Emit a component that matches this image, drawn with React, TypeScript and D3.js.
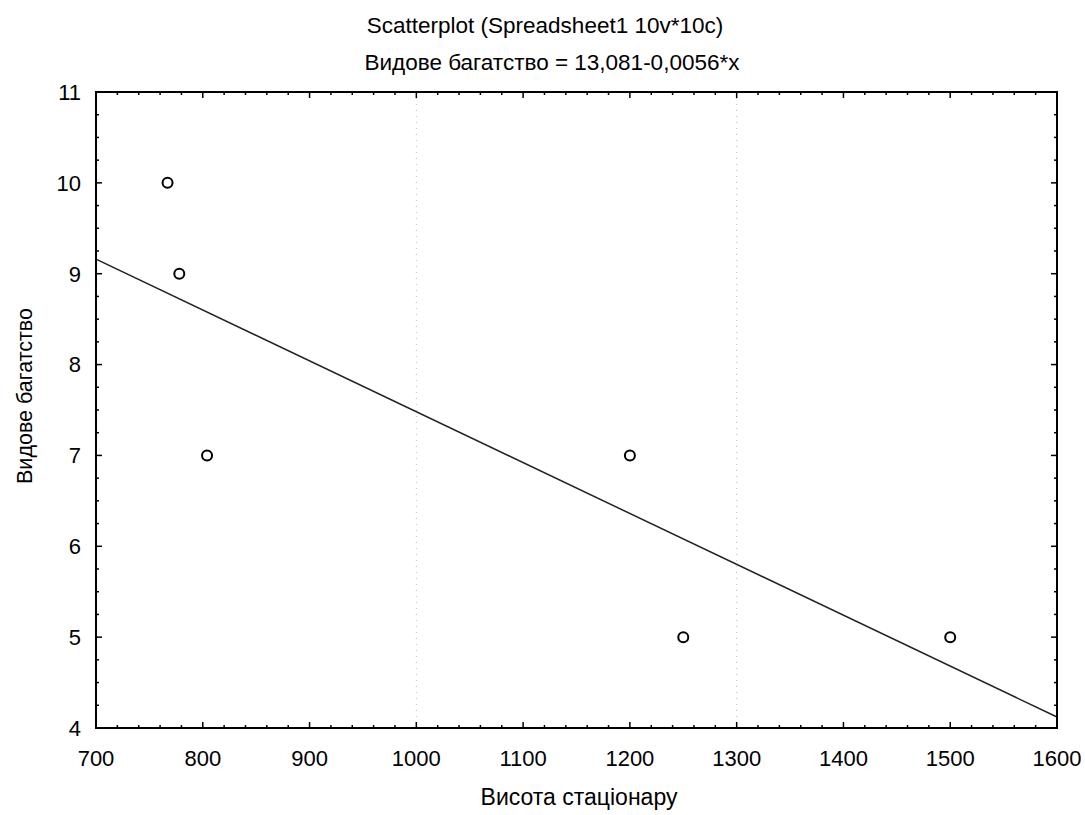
import React, { useEffect, useRef } from "react";
import * as d3 from "d3";

const title = "Scatterplot (Spreadsheet1 10v*10c)";
const subtitle = "Видове багатство = 13,081-0,0056*x";
const xLabel = "Висота стаціонару";
const yLabel = "Видове багатство";

const heights = [767, 778, 804, 1200, 1250, 1500];
const richness = [10, 9, 7, 7, 5, 5];
const intercept = 13.081;
const slope = -0.0056;

const xTicks = [700, 800, 900, 1000, 1100, 1200, 1300, 1400, 1500, 1600];
const yTicks = [4, 5, 6, 7, 8, 9, 10, 11];
const gridX = [1000, 1300];

const W = 1085;
const H = 815;
const FONT = "'Liberation Sans', Arial, sans-serif";

export default function App() {
  const ref = useRef<SVGSVGElement | null>(null);

  useEffect(() => {
    const svg = d3.select(ref.current);
    svg.selectAll("*").remove();

    const left = 96, right = 1057, top = 92, bottom = 728;
    const x = d3.scaleLinear().domain([700, 1600]).range([left, right]);
    const y = d3.scaleLinear().domain([4, 11]).range([bottom, top]);

    svg.append("rect").attr("width", W).attr("height", H).attr("fill", "#fff");

    // faint dotted grid lines
    svg.selectAll("line.grid").data(gridX).enter().append("line")
      .attr("x1", d => x(d)).attr("x2", d => x(d))
      .attr("y1", top).attr("y2", bottom)
      .attr("stroke", "#bbb").attr("stroke-width", 1)
      .attr("stroke-dasharray", "1,5");

    // regression line
    const lineData = [700, 1600].map(v => [v, intercept + slope * v] as [number, number]);
    svg.append("path")
      .attr("d", d3.line<[number, number]>().x(d => x(d[0])).y(d => y(d[1]))(lineData) as string)
      .attr("fill", "none").attr("stroke", "#222").attr("stroke-width", 1.5);

    // minor/major ticks on all four sides
    const xMinor = d3.range(700, 1600.1, 20);
    const yMinor = d3.range(4, 11.001, 0.25);
    const tg = svg.append("g").attr("stroke", "#000").attr("stroke-width", 1.5);
    xMinor.forEach(v => {
      const major = Math.abs(v % 100) < 1e-6;
      const len = major ? 6 : 3;
      tg.append("line").attr("x1", x(v)).attr("x2", x(v)).attr("y1", bottom).attr("y2", bottom - len);
      tg.append("line").attr("x1", x(v)).attr("x2", x(v)).attr("y1", top).attr("y2", top + len);
    });
    yMinor.forEach(v => {
      const major = Math.abs(v - Math.round(v)) < 1e-6;
      const len = major ? 6 : 3;
      tg.append("line").attr("x1", left).attr("x2", left + len).attr("y1", y(v)).attr("y2", y(v));
      tg.append("line").attr("x1", right).attr("x2", right - len).attr("y1", y(v)).attr("y2", y(v));
    });

    // frame
    svg.append("rect")
      .attr("x", left).attr("y", top)
      .attr("width", right - left).attr("height", bottom - top)
      .attr("fill", "none").attr("stroke", "#000").attr("stroke-width", 2);

    // points
    svg.selectAll("circle.pt").data(heights.map((h, i) => [h, richness[i]])).enter()
      .append("circle")
      .attr("cx", d => x(d[0])).attr("cy", d => y(d[1])).attr("r", 5)
      .attr("fill", "#fff").attr("stroke", "#000").attr("stroke-width", 2);

    const textStyle = (s: any) => s.attr("font-family", FONT).attr("font-size", 22).attr("fill", "#000");

    // x tick labels
    svg.selectAll("text.xt").data(xTicks).enter().append("text")
      .call(textStyle)
      .attr("x", d => x(d)).attr("y", 766).attr("text-anchor", "middle")
      .text(d => String(d));

    // y tick labels
    svg.selectAll("text.yt").data(yTicks).enter().append("text")
      .call(textStyle)
      .attr("x", 81).attr("y", d => y(d)).attr("dy", "0.36em").attr("text-anchor", "end")
      .text(d => String(d));

    // titles
    svg.append("text").call(textStyle).attr("font-size", 22.5)
      .attr("x", 545).attr("y", 33).attr("text-anchor", "middle").text(title);
    svg.append("text").call(textStyle).attr("font-size", 22.5)
      .attr("x", 552).attr("y", 70).attr("text-anchor", "middle").text(subtitle);

    // axis labels
    svg.append("text").call(textStyle).attr("font-size", 23)
      .attr("x", 579).attr("y", 805).attr("text-anchor", "middle").text(xLabel);
    svg.append("text").call(textStyle).attr("font-size", 21.5)
      .attr("transform", "translate(32,396) rotate(-90)")
      .attr("text-anchor", "middle").text(yLabel);
  }, []);

  return (
    <svg ref={ref} width={W} height={H}
      style={{ position: "absolute", left: 0, top: 0, display: "block" }} />
  );
}
